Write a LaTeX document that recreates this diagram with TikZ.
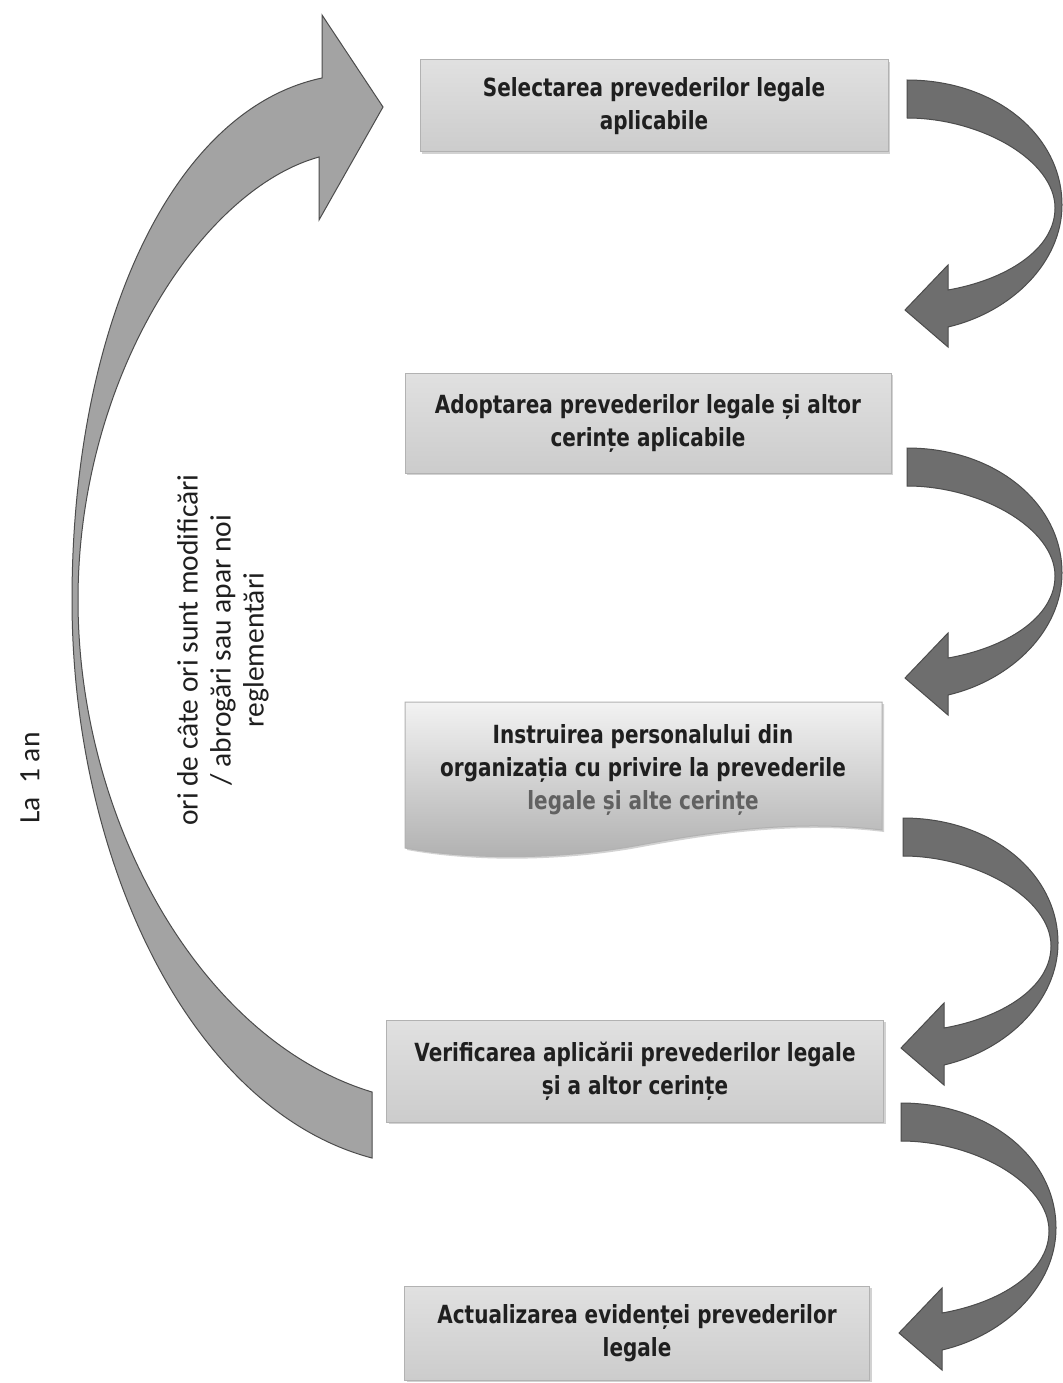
\documentclass[tikz,border=0pt]{standalone}
\usepackage{fontspec}
\newfontfamily\boxfont[FakeStretch=0.8]{DejaVu Sans}
\newfontfamily\sidefont{Carlito}
\usetikzlibrary{shadows}

\tikzset{
  stepbox/.style={draw=gray!60, line width=1pt, top color=gray!24, middle color=gray!5,
    bottom color=gray!40, drop shadow={shadow xshift=2pt, shadow yshift=-2pt, opacity=.35},
    align=center, inner sep=0pt, text=black!85},
  boxtext/.style={align=center, inner sep=0pt, text=black!88,
    font=\boxfont\bfseries\fontsize{25}{33}\selectfont},
  turnarrow/.style={draw=black!70, line width=1pt, fill=black!57},
  backarrow/.style={draw=black!70, line width=1pt, fill=black!36},
  sidetext/.style={rotate=90, align=center, text=black!88,
    font=\sidefont\fontsize{29.5}{33}\selectfont}
}

\begin{document}
\begin{tikzpicture}[x=1pt,y=-1pt]
  \path[fill=white,use as bounding box] (0,0) rectangle (1062,1383);

  % return arrow on the left
  \draw[backarrow] (372,1158) .. controls (190,1110) and (72,860) .. (72,600)
    .. controls (72,330) and (170,110) .. (322,78) -- (322,15) -- (383,107)
    -- (319,220) -- (319,157) .. controls (200,190) and (78,380) .. (78,600)
    .. controls (78,820) and (200,1040) .. (372,1092) -- cycle;

  % turning arrows on the right
  \foreach \dx/\dy in {0/0, 0/368, -4/738, -6/1023}
    \draw[turnarrow, shift={(\dx,\dy)}] (907,80) .. controls (995,80) and (1062,135) .. (1062,205)
      .. controls (1062,262) and (1012,312) .. (948,327) -- (948,347) -- (905,310)
      -- (948,265) -- (948,290) .. controls (1005,280) and (1055,250) .. (1055,208)
      .. controls (1055,160) and (980,118) .. (907,118) -- cycle;

  % steps
  \node[stepbox, minimum width=468, minimum height=92] (sel) at (654,106) {};
  \node[boxtext] (seltxt) at (sel.center) {Selectarea prevederilor legale\\aplicabile};

  \node[stepbox, minimum width=486, minimum height=100] (adopt) at (648,423) {};
  \node[boxtext] (adopttxt) at (adopt.center) {Adoptarea prevederilor legale și altor\\cerințe aplicabile};

  \path[draw=gray!60, line width=1pt, top color=gray!10, middle color=gray!42, bottom color=gray!62,
    drop shadow={shadow xshift=2pt, shadow yshift=-2pt, opacity=.35}]
    (405,702) -- (882,702) -- (882,830) .. controls (800,820) and (720,830) .. (640,845)
    .. controls (560,860) and (470,860) .. (405,848) -- cycle;
  \node[boxtext] (instr) at (643,770) {Instruirea personalului din\\organizația cu privire la prevederile\\{\color{black!62}legale și alte cerințe}};

  \node[stepbox, minimum width=497, minimum height=102] (verif) at (635,1071) {};
  \node[boxtext] (veriftxt) at (verif.center) {Verificarea aplicării prevederilor legale\\și a altor cerințe};

  \node[stepbox, minimum width=465, minimum height=94] (actual) at (637,1333) {};
  \node[boxtext] (actualtxt) at (actual.center) {Actualizarea evidenței prevederilor\\legale};

  % frequency labels
  \node[sidetext] (year) at (30,778) {La\ \ 1 an};
  \node[sidetext] (freq) at (223,650) {ori de câte ori sunt modificări\\/ abrogări sau apar noi\\reglementări};
\end{tikzpicture}
\end{document}
